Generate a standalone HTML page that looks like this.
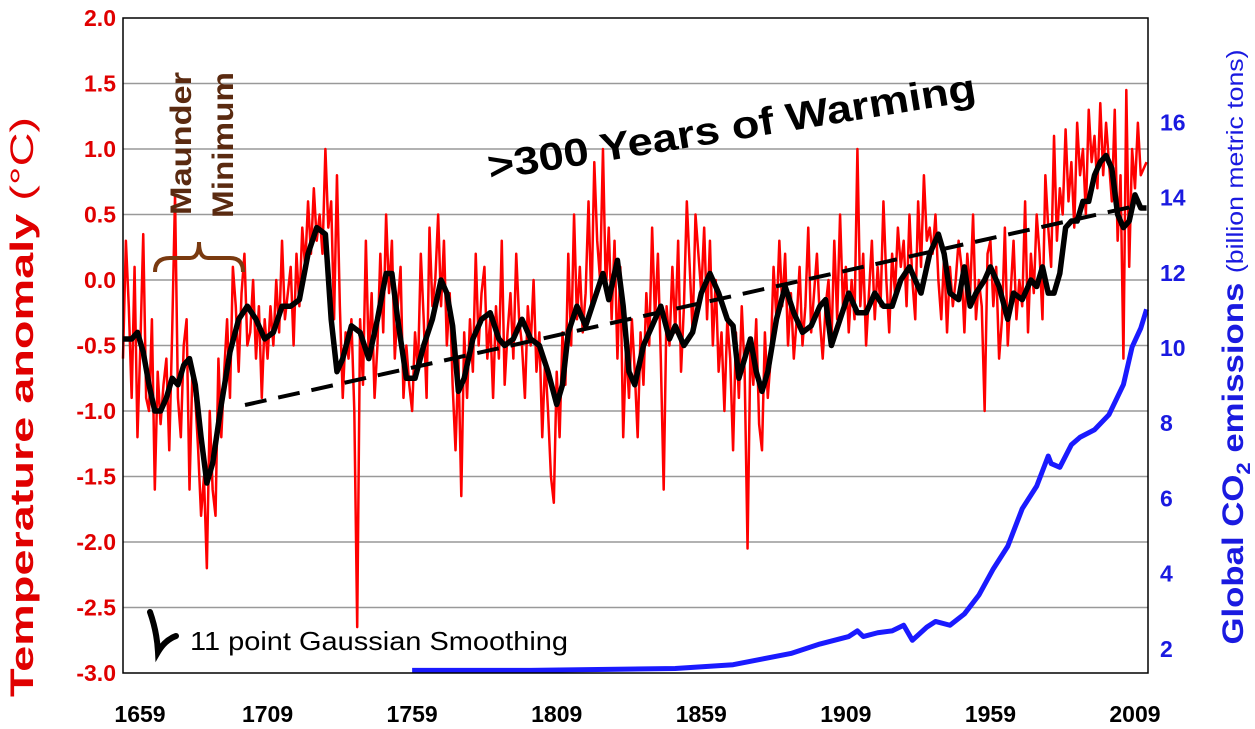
<!DOCTYPE html>
<html><head><meta charset="utf-8"><style>
body{margin:0;background:#fff}
svg{display:block;font-family:"Liberation Sans",Arial,sans-serif}
</style></head><body>
<svg id="chart" width="1255" height="729" viewBox="0 0 1255 729" xmlns="http://www.w3.org/2000/svg">
<g id="grid"></g>
<g id="redg"></g>
<g id="blueg"></g>
<line x1="245" y1="405" x2="1140" y2="205" stroke="#000" stroke-width="4" stroke-dasharray="22,12"/>
<g id="blackg"></g>
<rect x="123" y="18" width="1025" height="655" fill="none" stroke="#000" stroke-width="1.5"/>
<g id="yl"></g>
<g id="yr"></g>
<g id="xl"></g>
<text transform="translate(33,407) rotate(-90)" text-anchor="middle" fill="#e00000" font-size="32" font-weight="bold" textLength="580" lengthAdjust="spacingAndGlyphs">Temperature anomaly <tspan font-weight="normal">(°C)</tspan></text>
<text transform="translate(1243,347) rotate(-90)" text-anchor="middle" fill="#1a1ae0" font-size="30" font-weight="bold" textLength="595" lengthAdjust="spacingAndGlyphs">Global CO<tspan font-size="19" dy="7">2</tspan><tspan dy="-7"> emissions </tspan><tspan font-weight="normal" font-size="23">(billion metric tons)</tspan></text>
<text transform="translate(490,180) rotate(-9.3)" font-size="39" font-weight="bold" fill="#000" textLength="494" lengthAdjust="spacingAndGlyphs">&gt;300 Years of Warming</text>
<path d="M155,272 Q155,258 170,258 L190,258 Q199,258 199,242 Q199,258 208,258 L230,258 Q243,258 243,272" fill="none" stroke="#7a3a10" stroke-width="4"/>
<text transform="translate(191,215) rotate(-90)" fill="#5a2a10" font-size="30" font-weight="bold" textLength="143" lengthAdjust="spacingAndGlyphs">Maunder</text>
<text transform="translate(233,218) rotate(-90)" fill="#5a2a10" font-size="30" font-weight="bold" textLength="146" lengthAdjust="spacingAndGlyphs">Minimum</text>
<path d="M150,612 Q157,632 158,652 Q165,640 176,636" fill="none" stroke="#000" stroke-width="6" stroke-linecap="round"/>
<text x="190" y="650" font-size="26" fill="#000" textLength="378" lengthAdjust="spacingAndGlyphs">11 point Gaussian Smoothing</text>
</svg>
<script>
const redStart = 1659;
const redValues = [
-0.6,0.3,-0.2,-0.9,0.1,-1.2,-0.5,0.35,-0.9,-1.0,
-0.3,-1.6,-0.7,-1.1,-0.8,-0.6,-1.3,-0.4,0.65,-0.9,
-1.2,-0.5,-0.3,-1.6,-0.7,-0.9,-1.3,-1.8,-1.5,-2.2,
-1.0,-1.6,-1.8,-0.6,-1.2,-0.7,-0.3,-0.9,0.1,-0.2,
-0.7,-0.1,0.2,-0.5,-0.4,0.0,-0.6,-0.2,-0.9,-0.3,
-0.6,-0.2,-0.5,0.0,-0.4,0.3,-0.3,-0.1,0.1,-0.5,
0.2,-0.2,0.4,0.1,0.6,0.2,0.7,0.3,0.5,0.2,
1.0,0.4,0.6,-0.3,0.8,-0.2,-0.9,-0.4,-0.6,-0.3,
-1.0,-2.65,-0.3,-0.8,0.3,-0.6,-0.1,-0.9,-0.5,0.2,
-0.4,0.5,-0.1,0.3,-0.6,-0.2,0.1,-0.9,-0.5,-0.8,
-1.0,-0.4,-0.7,0.2,-0.3,-0.9,0.4,-0.2,0.0,0.5,
-0.2,0.3,-0.5,-0.1,-0.8,-1.3,-0.6,-1.65,-0.4,-0.9,
-0.3,-0.7,0.2,-0.5,-0.1,0.1,-0.6,-0.3,-0.9,-0.2,
-0.6,0.3,-0.8,-0.4,-0.1,-0.6,0.2,-0.3,-0.5,-0.9,
-0.2,-0.5,0.0,-0.7,-0.4,-1.2,-0.6,-1.0,-1.5,-1.7,
-0.7,-1.2,-0.4,-0.8,0.2,-0.5,0.5,-0.3,0.1,-0.4,
-0.1,0.6,-0.2,0.9,0.3,0.0,1.0,-0.1,0.4,-0.3,
0.3,-0.6,0.1,-1.2,-0.5,-0.9,-0.3,-0.7,-1.2,-0.4,
-0.8,-0.1,-0.5,0.4,-0.3,0.2,-0.6,-1.6,-0.2,-0.5,
0.1,-0.4,0.3,-0.7,-0.2,0.6,0.1,-0.4,0.5,0.2,
-0.1,0.4,-0.3,0.3,-0.5,0.0,-0.7,-0.4,-1.0,-0.3,
-0.6,-1.3,-0.4,-0.9,-0.2,-0.7,-2.05,-0.5,-0.8,-0.3,
-1.1,-1.3,-0.4,-0.9,-0.6,0.1,-0.3,0.3,-0.2,0.2,
-0.5,-0.1,-0.6,-0.3,0.1,-0.5,-0.2,0.4,-0.4,-0.1,
0.2,-0.3,-0.6,-0.2,0.0,-0.5,0.3,-0.3,0.5,-0.2,
0.1,-0.4,0.0,-0.3,1.0,-0.2,0.2,-0.5,-0.1,0.3,
-0.3,0.1,-0.2,0.6,0.0,-0.4,0.2,-0.1,0.4,0.1,
0.3,-0.2,0.5,0.0,-0.3,0.6,0.1,0.8,0.3,0.4,
0.2,0.5,0.0,-0.3,0.2,-0.4,0.1,-0.2,0.0,0.3,
0.1,-0.4,0.2,-0.1,0.5,-0.3,0.0,-0.2,-1.0,0.2,
0.3,-0.2,0.1,-0.6,-0.3,0.4,-0.5,-0.1,0.3,-0.3,
0.0,-0.2,0.6,-0.4,0.2,-0.1,0.5,0.2,-0.3,0.8,
0.4,0.1,1.1,0.3,0.7,0.5,1.15,0.6,0.9,0.4,
1.2,0.8,1.0,0.5,1.3,0.9,1.1,0.7,1.35,0.8,
1.2,0.9,0.6,1.3,0.3,0.8,-0.6,1.45,0.1,1.0,
0.7,1.2,0.8,0.85,0.9];
const smoothYears = [1659,1662,1664,1666,1668,1670,1672,1674,1676,1678,1680,1682,1684,1686,1688,1690,1693,1696,1699,1702,1705,1708,1711,1714,1717,1720,1723,1726,1729,1731,1733,1735,1738,1741,1744,1747,1750,1752,1754,1757,1760,1763,1766,1769,1771,1773,1775,1777,1780,1783,1786,1789,1791,1794,1797,1800,1803,1806,1809,1811,1813,1816,1819,1822,1825,1827,1830,1832,1834,1836,1839,1842,1845,1848,1850,1853,1856,1859,1862,1865,1868,1870,1872,1874,1876,1878,1880,1882,1885,1888,1891,1894,1897,1900,1902,1904,1907,1910,1913,1916,1919,1922,1925,1928,1931,1933,1935,1938,1941,1943,1945,1948,1950,1952,1954,1957,1959,1962,1965,1967,1970,1973,1975,1977,1979,1981,1983,1985,1987,1989,1991,1993,1995,1997,1999,2001,2003,2005,2007,2009,2011,2013];
const smoothValues = [-0.45,-0.45,-0.4,-0.55,-0.8,-1.0,-1.0,-0.9,-0.75,-0.8,-0.65,-0.6,-0.8,-1.2,-1.55,-1.4,-0.95,-0.55,-0.3,-0.2,-0.3,-0.45,-0.4,-0.2,-0.2,-0.15,0.2,0.4,0.35,-0.3,-0.7,-0.6,-0.35,-0.4,-0.6,-0.3,0.05,0.05,-0.3,-0.75,-0.75,-0.5,-0.3,0.0,-0.1,-0.35,-0.85,-0.75,-0.45,-0.3,-0.25,-0.45,-0.5,-0.45,-0.3,-0.45,-0.5,-0.7,-0.95,-0.8,-0.4,-0.2,-0.35,-0.15,0.05,-0.15,0.15,-0.2,-0.7,-0.8,-0.5,-0.35,-0.2,-0.45,-0.35,-0.5,-0.4,-0.1,0.05,-0.1,-0.3,-0.35,-0.75,-0.6,-0.45,-0.7,-0.85,-0.7,-0.3,-0.05,-0.25,-0.4,-0.35,-0.2,-0.15,-0.5,-0.3,-0.1,-0.25,-0.25,-0.1,-0.2,-0.2,0.0,0.1,0.0,-0.1,0.2,0.35,0.2,-0.1,-0.15,0.1,-0.2,-0.1,0.0,0.1,-0.05,-0.3,-0.1,-0.15,0.0,-0.05,0.1,-0.1,-0.1,0.05,0.4,0.45,0.45,0.6,0.6,0.8,0.9,0.95,0.85,0.5,0.4,0.45,0.65,0.55,0.55];
const co2Years = [1759,1800,1850,1870,1880,1890,1900,1910,1913,1915,1920,1925,1929,1932,1937,1940,1945,1950,1955,1960,1965,1970,1975,1979,1980,1983,1987,1990,1995,2000,2005,2008,2011,2013];
const co2Values = [1.4,1.4,1.45,1.55,1.7,1.85,2.1,2.3,2.45,2.3,2.4,2.45,2.6,2.2,2.55,2.7,2.6,2.9,3.4,4.1,4.7,5.7,6.3,7.1,6.9,6.8,7.4,7.6,7.8,8.2,9.0,10.0,10.5,11.0];
const leftTicks = ["2.0","1.5","1.0","0.5","0.0","-0.5","-1.0","-1.5","-2.0","-2.5","-3.0"];
const rightTicks = [2,4,6,8,10,12,14,16];
const xTicks = [1659,1709,1759,1809,1859,1909,1959,2009];

const X0=123, X1=1148, Y0=18, Y1=673;
const xs = y => X0 + (y-1659)*(X1-X0)/(2013.5-1659);
const yl = v => Y1 - (v+3)*(Y1-Y0)/5;
const yr = v => 723 - v*37.6;
const NS='http://www.w3.org/2000/svg';
function mk(tag, attrs, parent){const e=document.createElementNS(NS,tag);for(const k in attrs)e.setAttribute(k,attrs[k]);document.getElementById(parent).appendChild(e);return e;}

leftTicks.forEach(t=>{
  const v=parseFloat(t), y=yl(v);
  if(v<2&&v>-3){const g=mk('line',{x1:X0,x2:X1,y1:y,y2:y,stroke:'#999','stroke-width':1.5},'grid');
  
  }
  const tx=mk('text',{x:116,y:y+8,'text-anchor':'end',fill:'#e00000','font-size':23,'font-weight':'bold'},'yl');
  
  
  tx.textContent=t;
});
rightTicks.forEach(t=>{
  const tx=mk('text',{x:1160,y:yr(t)+9,fill:'#1a1ae0','font-size':23,'font-weight':'bold'},'yr');
  
  
  tx.textContent=t;
});
xTicks.forEach(t=>{
  const tx=mk('text',{x:xs(t)+(t===1659?17:0),y:722,'text-anchor':'middle',fill:'#000','font-size':23,'font-weight':'bold'},'xl');
  
  
  tx.textContent=t;
});
const rp=mk('polyline',{points:redValues.map((v,i)=>xs(redStart+i)+','+yl(v)).join(' '),fill:'none',stroke:'#ff0000','stroke-width':2.5,'stroke-linejoin':'round'},'redg');


const bp=mk('polyline',{points:co2Years.map((y,i)=>xs(y)+','+yr(co2Values[i])).join(' '),fill:'none',stroke:'#1a1aff','stroke-width':5,'stroke-linejoin':'round'},'blueg');


const kp=mk('polyline',{points:smoothYears.map((y,i)=>xs(y)+','+yl(smoothValues[i])).join(' '),fill:'none',stroke:'#000','stroke-width':5.5,'stroke-linejoin':'round'},'blackg');


</script>
</body></html>
